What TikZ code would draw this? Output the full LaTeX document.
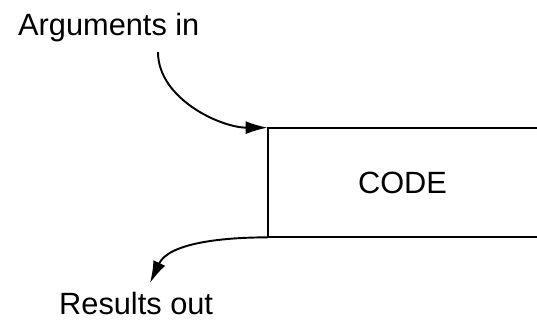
\documentclass[tikz,border=0pt]{standalone}
\usepackage{fontspec}
\setmainfont{Liberation Sans}
\usetikzlibrary{arrows.meta,calc,positioning}
\tikzset{
  code edge/.style={black, line width=1.1pt},
  flow arrow/.style={
      black, line width=1.1pt,
        -{Latex[length=4.4mm,width=2.6mm]}
    },
  side label/.style={
      anchor=base west,
      font=\fontsize{17.5}{21}\selectfont
    }
}

\begin{document}
\begin{tikzpicture}
  \useasboundingbox (0,0) rectangle (10.74,6.40);

  % ------------------------------------------------------------------
  % Code block, open on the right.
  % ------------------------------------------------------------------
  \node[minimum width=5.38cm, minimum height=2.18cm, inner sep=0pt,
        font=\fontsize{17.5}{21}\selectfont] (code) at (8.05,2.75) {CODE};

  \draw[code edge] (code.north east) -- (code.north west)
                   -- (code.south west) -- (code.south east);

  % ------------------------------------------------------------------
  % Arguments going in, results coming out.
  % ------------------------------------------------------------------
  \node[side label] (argsin) at (0.24,5.70) {Arguments in};
  \node[side label] (resout) at (1.06,0.12) {Results out};

  \coordinate (inStart) at (3.16,5.36);
  \coordinate (outEnd) at (3.00,0.74);

  \draw[flow arrow] (inStart) to[out=-90, in=180, looseness=0.9] (code.north west);
  \draw[flow arrow] (code.south west) to[out=180, in=65, looseness=0.9] (outEnd);

\end{tikzpicture}
\end{document}
